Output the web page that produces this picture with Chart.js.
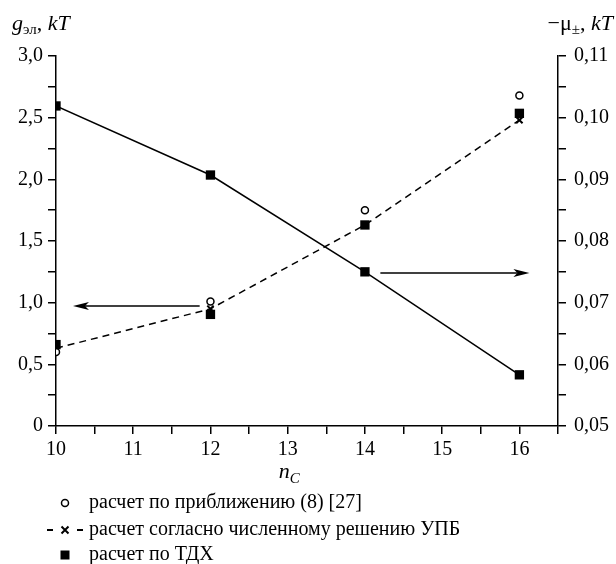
<!DOCTYPE html>
<html lang="ru">
<head>
<meta charset="UTF-8">
<title>g_эл и -μ± от n_C</title>
<script src="https://cdn.jsdelivr.net/npm/chart.js"></script>
<style>
  html, body { margin: 0; padding: 0; background: #fff; }
  #wrap { width: 616px; height: 564px; }
</style>
</head>
<body>
<div id="wrap"><canvas id="chart" width="616" height="564"></canvas></div>
<script>
// данные
var nC = [10, 12, 14, 16];
var approx8 = [0.60, 1.01, 1.75, 2.68];      // расчет по приближению (8) [27]
var upb = [0.63, 0.95, 1.63, 2.48];          // расчет согласно численному решению УПБ
var tdxG = [0.66, 0.905, 1.63, 2.535];       // расчет по ТДХ, g_эл
var tdxMu = [0.1019, 0.0907, 0.0750, 0.0583]; // расчет по ТДХ, -μ±
var legendLabels = [
  'расчет по приближению (8) [27]',
  'расчет согласно численному решению УПБ',
  'расчет по ТДХ'
];

var FONT = '"Liberation Serif", "Times New Roman", serif';

function pts(xs, ys) {
  return xs.map(function (x, i) { return { x: x, y: ys[i] }; });
}

// подписи осей, стрелки и легенда
var extras = {
  id: 'extras',
  afterDraw: function (chart) {
    var ctx = chart.ctx;
    var x = chart.scales.x, y = chart.scales.y, y1 = chart.scales.y1;
    ctx.save();
    ctx.fillStyle = '#000';
    ctx.strokeStyle = '#000';
    ctx.textBaseline = 'alphabetic';
    ctx.textAlign = 'left';

    // левый заголовок
    var cx = 12, by = 30;
    ctx.font = 'italic 22px ' + FONT;
    ctx.fillText('g', cx, by); cx += ctx.measureText('g').width;
    ctx.font = '15px ' + FONT;
    ctx.fillText('эл', cx, by + 4); cx += ctx.measureText('эл').width;
    ctx.font = '22px ' + FONT;
    ctx.fillText(', ', cx, by); cx += ctx.measureText(', ').width;
    ctx.font = 'italic 22px ' + FONT;
    ctx.fillText('kT', cx, by);

    // правый заголовок
    var parts = [
      ['−μ', '22px ', 0], ['±', '15px ', 4], [', ', '22px ', 0], ['kT', 'italic 22px ', 0]
    ];
    var w = 0;
    parts.forEach(function (p) { ctx.font = p[1] + FONT; w += ctx.measureText(p[0]).width; });
    cx = 613 - w;
    parts.forEach(function (p) {
      ctx.font = p[1] + FONT;
      ctx.fillText(p[0], cx, by + p[2]);
      cx += ctx.measureText(p[0]).width;
    });

    // подпись оси x
    ctx.font = 'italic 22px ' + FONT;
    cx = x.getPixelForValue(13) - 9;
    ctx.fillText('n', cx, 478);
    cx += ctx.measureText('n').width;
    ctx.font = 'italic 15px ' + FONT;
    ctx.fillText('C', cx, 483);

    // стрелки
    function arrow(x0, x1, py) {
      var dir = x1 > x0 ? 1 : -1;
      ctx.lineWidth = 1.5;
      ctx.beginPath();
      ctx.moveTo(x0, py);
      ctx.lineTo(x1 - dir * 12, py);
      ctx.stroke();
      ctx.beginPath();
      ctx.moveTo(x1, py);
      ctx.lineTo(x1 - dir * 16, py - 4);
      ctx.lineTo(x1 - dir * 12, py);
      ctx.lineTo(x1 - dir * 16, py + 4);
      ctx.closePath();
      ctx.fill();
    }
    arrow(x.getPixelForValue(11.86), x.getPixelForValue(10.22), y.getPixelForValue(0.972));
    arrow(x.getPixelForValue(14.2), x.getPixelForValue(16.13), y1.getPixelForValue(0.0748));

    // легенда
    var lx = 65, tx = 89;
    var rows = [503, 530, 555];
    ctx.font = '20px ' + FONT;
    ctx.textBaseline = 'middle';
    legendLabels.forEach(function (t, i) { ctx.fillText(t, tx, rows[i]); });
    // кружок
    ctx.lineWidth = 1.5;
    ctx.fillStyle = '#fff';
    ctx.beginPath(); ctx.arc(lx, rows[0], 3.5, 0, Math.PI * 2); ctx.fill(); ctx.stroke();
    ctx.fillStyle = '#000';
    // - x -
    ctx.lineWidth = 2;
    ctx.beginPath();
    ctx.moveTo(47, rows[1]); ctx.lineTo(53, rows[1]);
    ctx.moveTo(77, rows[1]); ctx.lineTo(83, rows[1]);
    ctx.moveTo(lx - 3.5, rows[1] - 3.5); ctx.lineTo(lx + 3.5, rows[1] + 3.5);
    ctx.moveTo(lx + 3.5, rows[1] - 3.5); ctx.lineTo(lx - 3.5, rows[1] + 3.5);
    ctx.stroke();
    // квадрат
    ctx.fillRect(lx - 4.5, rows[2] - 4.5, 9, 9);
    ctx.restore();
  }
};

function tickSetup(extra) {
  return Object.assign({
    color: '#000',
    font: { family: FONT, size: 20 },
    autoSkip: false,
    maxRotation: 0
  }, extra);
}
var gridSetup = {
  drawOnChartArea: false,
  drawTicks: true,
  tickLength: 8,
  color: '#000',
  lineWidth: 1.5
};
var borderSetup = { display: true, color: '#000', width: 1.5 };

new Chart(document.getElementById('chart'), {
  type: 'scatter',
  data: {
    datasets: [
      {
        label: legendLabels[2] + ' (g)',
        data: pts(nC, tdxG),
        yAxisID: 'y',
        showLine: false,
        pointStyle: 'rect',
        pointRadius: 6.6,
        backgroundColor: '#000',
        borderColor: '#000',
        borderWidth: 0,
        order: 0
      },
      {
        label: legendLabels[2] + ' (μ)',
        data: pts(nC, tdxMu),
        yAxisID: 'y1',
        showLine: true,
        borderColor: '#000',
        borderWidth: 1.5,
        pointStyle: 'rect',
        pointRadius: 6.6,
        pointBackgroundColor: '#000',
        pointBorderWidth: 0,
        order: 1
      },
      {
        label: legendLabels[0],
        data: pts(nC, approx8),
        yAxisID: 'y',
        showLine: false,
        pointStyle: 'circle',
        pointRadius: 3.5,
        backgroundColor: '#fff',
        borderColor: '#000',
        borderWidth: 1.5,
        order: 2
      },
      {
        label: legendLabels[1],
        data: pts(nC, upb),
        yAxisID: 'y',
        showLine: true,
        borderColor: '#000',
        borderWidth: 1.5,
        borderDash: [7, 5],
        pointStyle: 'crossRot',
        pointRadius: 4.5,
        pointBorderWidth: 2,
        order: 3
      }
    ]
  },
  options: {
    responsive: false,
    animation: false,
    layout: { padding: { top: 56, left: 0, right: 0, bottom: 0 } },
    plugins: { legend: { display: false }, tooltip: { enabled: false } },
    scales: {
      x: {
        type: 'linear',
        min: 10, max: 16.5,
        ticks: tickSetup({
          stepSize: 0.5,
          padding: 4,
          callback: function (v) { return Number.isInteger(v) && v <= 16 ? String(v) : ''; }
        }),
        grid: gridSetup,
        border: borderSetup,
        afterFit: function (s) { s.height = 138; }
      },
      y: {
        position: 'left',
        min: 0, max: 3,
        ticks: tickSetup({
          stepSize: 0.25,
          padding: 5,
          callback: function (v) {
            var k = Math.round(v * 100);
            if (k % 50 !== 0) return '';
            return k === 0 ? '0' : (k / 100).toFixed(1).replace('.', ',');
          }
        }),
        grid: gridSetup,
        border: borderSetup,
        afterFit: function (s) { s.width = 56; }
      },
      y1: {
        position: 'right',
        min: 0.05, max: 0.11,
        ticks: tickSetup({
          stepSize: 0.005,
          padding: 8,
          callback: function (v) {
            var k = Math.round(v * 1000);
            return k % 10 === 0 ? (k / 1000).toFixed(2).replace('.', ',') : '';
          }
        }),
        grid: gridSetup,
        border: borderSetup,
        afterFit: function (s) { s.width = 58; }
      }
    }
  },
  plugins: [extras]
});
</script>
</body>
</html>
